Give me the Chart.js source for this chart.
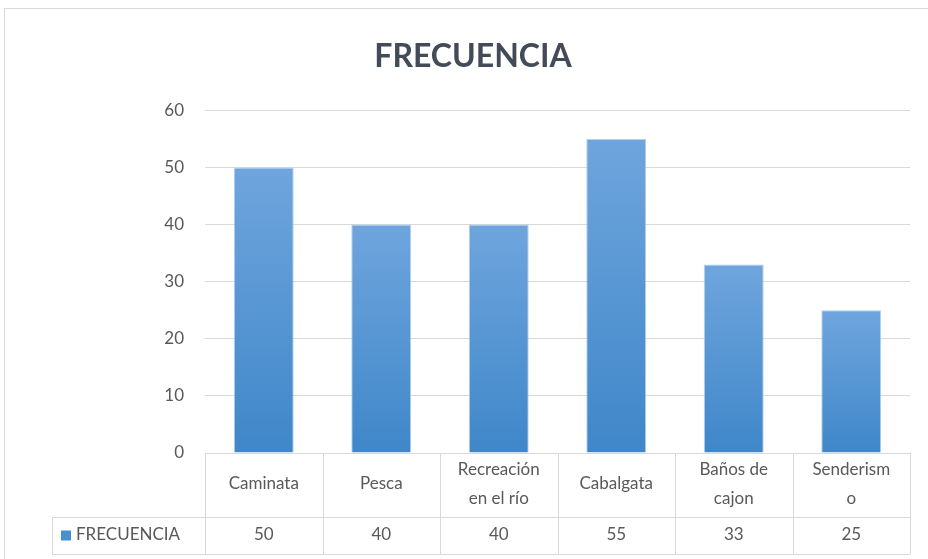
<!DOCTYPE html>
<html><head><meta charset="utf-8">
<script src="https://cdn.jsdelivr.net/npm/chart.js@4.4.1/dist/chart.umd.min.js"></script>
<style>
html,body{margin:0;padding:0;background:#fff;}
#wrap{position:relative;width:928px;height:559px;}
#frame{position:absolute;left:4px;top:8px;width:940px;height:600px;border:1px solid #d9d9d9;box-sizing:border-box;}
canvas{position:absolute;left:0;top:0;}
</style></head>
<body>
<div id="wrap"><div id="frame"></div><canvas id="c" width="928" height="559"></canvas></div>
<script>
const chartTitle = 'FRECUENCIA';
const seriesName = 'FRECUENCIA';
const categories = [['Caminata'], ['Pesca'], ['Recreación', 'en el río'], ['Cabalgata'], ['Baños de', 'cajon'], ['Senderism', 'o']];
const values = [50, 40, 40, 55, 33, 25];
const yTicks = [0, 10, 20, 30, 40, 50, 60];

const FONT = 'Lato, "Open Sans", sans-serif';
const TXT = '#595959';
const GRID = '#d9d9d9';

function barGradient(ctx) {
  const chart = ctx.chart;
  const area = chart.chartArea;
  if (!area || ctx.type !== 'data') return '#5b9bd5';
  const y = chart.scales.y;
  const top = y.getPixelForValue(values[ctx.dataIndex]);
  const bot = y.getPixelForValue(0);
  const g = chart.ctx.createLinearGradient(0, top, 0, bot);
  g.addColorStop(0, '#6fa5dd');
  g.addColorStop(1, '#3f87c9');
  return g;
}

const tablePlugin = {
  id: 'dataTable',
  afterDraw(chart) {
    const ctx = chart.ctx;
    const xs = chart.scales.x;
    const area = chart.chartArea;
    const n = categories.length;
    const step = (area.right - area.left) / n;
    const top = area.bottom;
    const mid = top + 64;
    const bottom = top + 101;
    const leftEdge = 52;
    ctx.save();
    ctx.strokeStyle = GRID;
    ctx.lineWidth = 1;
    ctx.beginPath();
    ctx.moveTo(area.left, top + 0.5); ctx.lineTo(area.right, top + 0.5);
    ctx.moveTo(leftEdge, mid + 0.5); ctx.lineTo(area.right, mid + 0.5);
    ctx.moveTo(leftEdge, bottom + 0.5); ctx.lineTo(area.right, bottom + 0.5);
    ctx.moveTo(leftEdge + 0.5, mid); ctx.lineTo(leftEdge + 0.5, bottom);
    for (let i = 0; i <= n; i++) {
      const x = Math.round(area.left + i * step) + 0.5;
      ctx.moveTo(x, top); ctx.lineTo(x, bottom);
    }
    ctx.stroke();
    ctx.fillStyle = TXT;
    ctx.textAlign = 'center';
    ctx.textBaseline = 'middle';
    ctx.font = '17px ' + FONT;
    for (let i = 0; i < n; i++) {
      const cx = xs.getPixelForValue(i);
      const lines = categories[i];
      const lh = 29;
      const y0 = (top + mid) / 2 - 1 - (lines.length - 1) * lh / 2;
      lines.forEach((t, k) => ctx.fillText(t, cx, y0 + k * lh));
      ctx.fillText(String(values[i]), cx, (mid + bottom) / 2 - 1);
    }
    // legend key
    ctx.fillStyle = '#4a8fd0';
    ctx.fillRect(61, (mid + bottom) / 2 - 5, 10, 10);
    ctx.fillStyle = TXT;
    ctx.textAlign = 'left';
    ctx.fillText(seriesName, 76, (mid + bottom) / 2 - 1);
    ctx.restore();
  }
};

new Chart(document.getElementById('c'), {
  type: 'bar',
  data: {
    labels: categories.map(c => c.join(' ')),
    datasets: [{
      label: seriesName,
      data: values,
      backgroundColor: barGradient,
      borderColor: 'rgba(160,196,232,0.8)',
      borderWidth: 1,
      barPercentage: 0.51,
      categoryPercentage: 1.0
    }]
  },
  options: {
    responsive: false,
    animation: false,
    layout: { padding: { top: 20, right: 18, bottom: 5, left: 36 } },
    plugins: {
      legend: { display: false },
      tooltip: { enabled: false },
      title: {
        display: true,
        text: chartTitle,
        color: '#434b58',
        font: { family: FONT, size: 32, weight: 'bold' },
        padding: { top: 17, bottom: 35 }
      }
    },
    scales: {
      x: {
        grid: { display: false },
        border: { display: false },
        ticks: { display: false },
        afterFit(s) { s.height = 101; }
      },
      y: {
        min: 0, max: 60,
        afterBuildTicks(s) { s.ticks = yTicks.map(v => ({ value: v })); },
        grid: { color: GRID, lineWidth: 1, drawTicks: false },
        border: { display: false },
        ticks: { color: TXT, font: { family: FONT, size: 17 }, padding: 21 },
        afterFit(s) { s.width = 169; }
      }
    }
  },
  plugins: [tablePlugin]
});
</script>
</body></html>
